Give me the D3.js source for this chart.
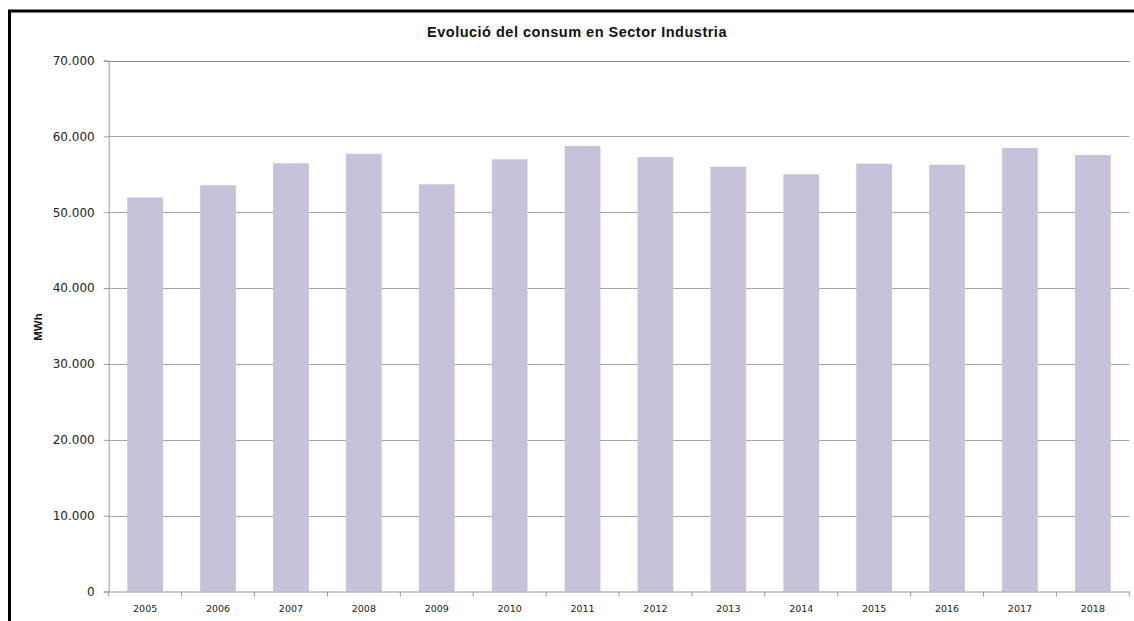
<!DOCTYPE html>
<html><head><meta charset="utf-8">
<script src="https://cdn.jsdelivr.net/npm/d3@7"></script>
<style>
html,body{margin:0;padding:0;background:#fff;}
svg{display:block;}
</style></head>
<body>
<script>
const years = ["2005","2006","2007","2008","2009","2010","2011","2012","2013","2014","2015","2016","2017","2018"];
const consum = [51950,53550,56450,57700,53680,56970,58730,57280,56000,55000,56400,56260,58460,57540];
const yTicks = [0,10000,20000,30000,40000,50000,60000,70000];
const title = "Evolució del consum en Sector Industria";
const yLabel = "MWh";

const W = 1134, H = 621;
const svg = d3.select("body").append("svg").attr("width", W).attr("height", H);

// outer frame (left and top borders visible)
svg.append("path").attr("d", "M9.5,621 L9.5,11 L1134,11")
  .attr("fill","none").attr("stroke","#000").attr("stroke-width",3);

const pLeft = 108.7, pRight = 1129.3, pTop = 60.5, pBottom = 591.5;
const x = d3.scaleBand().domain(years).range([pLeft, pRight]).paddingInner(0.51).paddingOuter(0.255);
const xb = d3.scaleBand().domain(years).range([pLeft, pRight]);
const y = d3.scaleLinear().domain([0,70000]).range([pBottom, pTop]);

const fmt = d => d3.format(",")(d).replace(/,/g, ".");

// gridlines
svg.append("g").selectAll("line").data(yTicks.filter(d=>d>0)).join("line")
  .attr("x1", pLeft).attr("x2", pRight)
  .attr("y1", d=>Math.round(y(d))+0.5).attr("y2", d=>Math.round(y(d))+0.5)
  .attr("stroke", d=> d===70000 ? "#888" : "#a6a6a6").attr("stroke-width",1.2);

// bars
svg.append("g").selectAll("rect").data(years).join("rect")
  .attr("x", d=>x(d)).attr("width", x.bandwidth())
  .attr("y", (d,i)=>y(consum[i])).attr("height", (d,i)=>pBottom - y(consum[i]))
  .attr("fill", "#c9c0da");

// y axis
const yAxis = d3.axisLeft(y).tickValues(yTicks).tickFormat(fmt).tickSize(5).tickPadding(9);
const gy = svg.append("g").attr("transform", `translate(${pLeft},0)`).call(yAxis);
gy.select(".domain").attr("stroke","#999");
gy.selectAll(".tick line").attr("stroke","#999");
gy.selectAll("text").attr("font-family","DejaVu Sans, Verdana, sans-serif").attr("font-size","12px").attr("fill","#222");

// x axis with ticks between categories
const gx = svg.append("g").attr("transform", `translate(0,${pBottom})`);
gx.append("line").attr("x1", pLeft).attr("x2", pRight).attr("y1",0.5).attr("y2",0.5).attr("stroke","#999");
const bounds = years.map(d=>xb(d)).concat([pRight]);
gx.selectAll("line.t").data(bounds).join("line").attr("class","t")
  .attr("x1", d=>d).attr("x2", d=>d).attr("y1",0).attr("y2",5).attr("stroke","#999");
gx.selectAll("text").data(years).join("text")
  .attr("x", d=>xb(d)+xb.bandwidth()/2).attr("y", 20)
  .attr("text-anchor","middle")
  .attr("font-family","DejaVu Sans, Verdana, sans-serif").attr("font-size","9.5px").attr("fill","#222")
  .text(d=>d);

// title
svg.append("text").attr("x", 577).attr("y", 37).attr("text-anchor","middle")
  .attr("font-family","Liberation Sans, Arial, sans-serif").attr("font-weight","bold").attr("font-size","14.5px")
  .attr("letter-spacing","0.5px")
  .attr("fill","#111").text(title);

// y label
svg.append("text").attr("transform","translate(42,327) rotate(-90)").attr("text-anchor","middle")
  .attr("font-family","Liberation Sans, Arial, sans-serif").attr("font-weight","bold").attr("font-size","11.5px")
  .attr("fill","#111").text(yLabel);
</script>
</body></html>
